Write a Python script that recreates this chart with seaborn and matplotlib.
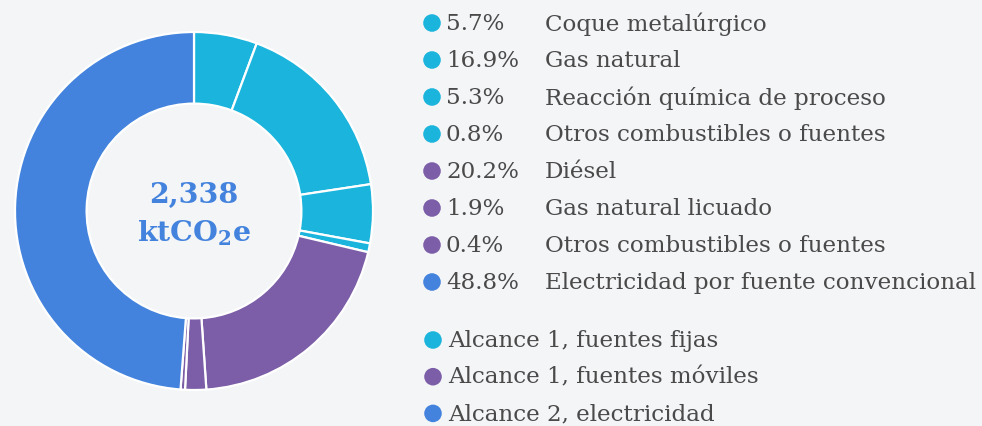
import matplotlib
matplotlib.use("Agg")
import matplotlib.pyplot as plt
import seaborn as sns

# ---- data ----
shares = [5.7, 16.9, 5.3, 0.8, 20.2, 1.9, 0.4, 48.8]
labels = ["Coque metalúrgico", "Gas natural", "Reacción química de proceso",
          "Otros combustibles o fuentes", "Diésel", "Gas natural licuado",
          "Otros combustibles o fuentes", "Electricidad por fuente convencional"]
groups = [0, 0, 0, 0, 1, 1, 1, 2]
group_names = ["Alcance 1, fuentes fijas", "Alcance 1, fuentes móviles",
               "Alcance 2, electricidad"]
total_label = "2,338"
unit_label = "ktCO$_2$e"

# ---- style ----
sns.set_theme(style="white")
bg = "#F4F5F7"
palette = sns.color_palette(["#1AB4DC", "#7B5EA7", "#4383DD"])
txt_color = "#4A4A4A"
font = ["DejaVu Serif"]
plt.rcParams["font.family"] = font
plt.rcParams["mathtext.fontset"] = "dejavuserif"
plt.rcParams["mathtext.default"] = "bf"

W, H = 982, 427
fig = plt.figure(figsize=(W / 100, H / 100), dpi=100, facecolor=bg)

# donut
cx, cy, R = 194, 212, 179
ax = fig.add_axes([(cx - R) / W, (H - cy - R) / H, 2 * R / W, 2 * R / H])
ax.set_facecolor(bg)
colors = [palette[g] for g in groups]
ax.pie(shares, colors=colors, startangle=90, counterclock=False, radius=1,
       wedgeprops=dict(width=0.40, edgecolor="white", linewidth=1.6))
ax.set_xlim(-1, 1)
ax.set_ylim(-1, 1)
ax.set_aspect("equal")
ax.axis("off")
ax.text(0, 0.09, total_label, ha="center", va="center", fontsize=20.5,
        fontweight="bold", color="#4383DD")
ax.text(0, -0.12, unit_label, ha="center", va="center", fontsize=20.5,
        fontweight="bold", color="#4383DD")

# legend (pixel-like layout axes)
lax = fig.add_axes([0, 0, 1, 1])
lax.set_xlim(0, W)
lax.set_ylim(H, 0)
lax.axis("off")
fs = 16.6
row_y0, row_dy = 24, 37.0
for i, (s, lab, g) in enumerate(zip(shares, labels, groups)):
    y = row_y0 + i * row_dy
    lax.scatter([432], [y], s=160, color=palette[g], edgecolor="none")
    lax.text(446, y, f"{s:.1f}%", va="center", ha="left", fontsize=fs,
             color=txt_color)
    lax.text(545, y, lab, va="center", ha="left", fontsize=fs,
             color=txt_color)
g_y0 = 341
for j, name in enumerate(group_names):
    y = g_y0 + j * 36.7
    lax.scatter([433], [y], s=160, color=palette[j], edgecolor="none")
    lax.text(448, y, name, va="center", ha="left", fontsize=fs,
             color=txt_color)

fig.savefig("out.png", dpi=100, facecolor=bg)
